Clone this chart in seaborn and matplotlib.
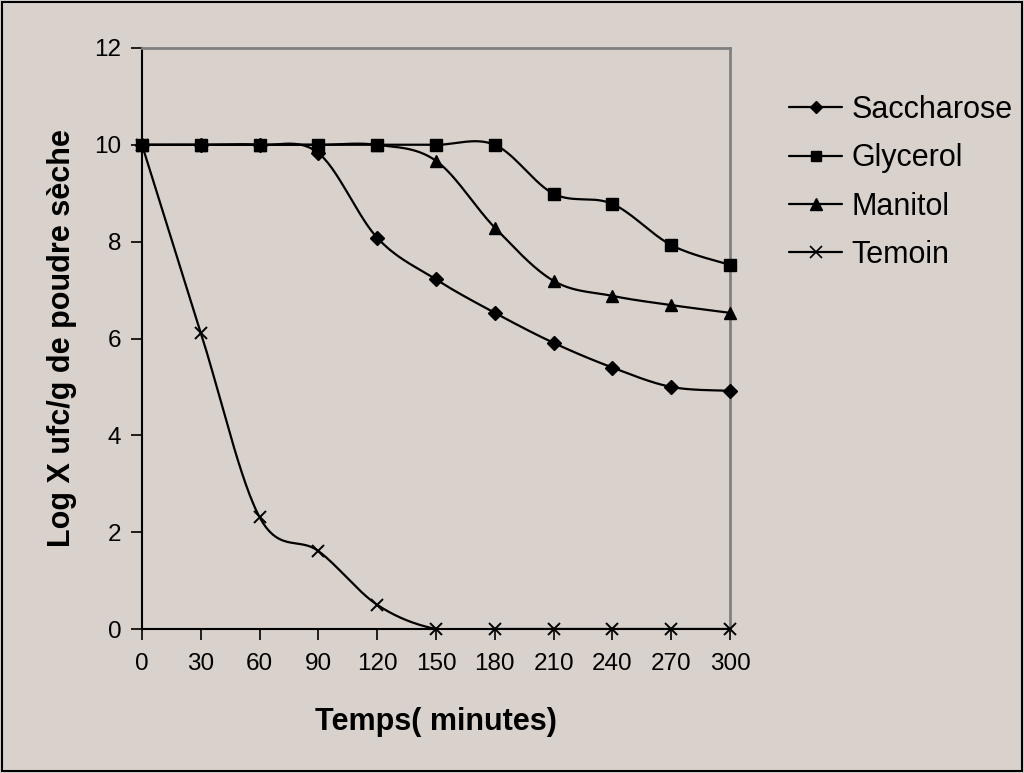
import numpy as np
import pandas as pd
import matplotlib
matplotlib.use("Agg")
import matplotlib.pyplot as plt
import seaborn as sns
from matplotlib.lines import Line2D

# ---- data ----
times = [0, 30, 60, 90, 120, 150, 180, 210, 240, 270, 300]
saccharose = [10, 10, 10, 9.83, 8.08, 7.22, 6.53, 5.91, 5.40, 5.00, 4.92]
glycerol = [10, 10, 10, 10, 10, 10, 10, 8.99, 8.78, 7.93, 7.52]
manitol = [10, 10, 10, 10, 10, 9.67, 8.29, 7.19, 6.88, 6.69, 6.53]
temoin = [10, 6.12, 2.31, 1.61, 0.50, 0, 0, 0, 0, 0, 0]
series_names = ["Saccharose", "Glycerol", "Manitol", "Temoin"]
series_values = [saccharose, glycerol, manitol, temoin]
markers = ["D", "s", "^", "x"]
marker_sizes = [7, 8, 9, 9]
x_ticks = [0, 30, 60, 90, 120, 150, 180, 210, 240, 270, 300]
y_ticks = [0, 2, 4, 6, 8, 10, 12]

BG = "#d9d1cb"

sns.set_theme(style="white")
plt.rcParams["font.family"] = ["Liberation Sans", "DejaVu Sans"]
plt.rcParams["text.color"] = "black"
plt.rcParams["axes.labelcolor"] = "black"
plt.rcParams["xtick.color"] = "black"
plt.rcParams["ytick.color"] = "black"

fig = plt.figure(figsize=(10.24, 7.73), dpi=100, facecolor=BG)
ax = fig.add_axes([142 / 1024, 1 - 629 / 773, (730 - 142) / 1024, (629 - 48) / 773])
ax.set_facecolor(BG)

# pixel scale (for Excel-like smoothing in screen space)
sx = 588 / 300.0
sy = 581 / 12.0


def excel_smooth(x, y, n=30):
    px = np.asarray(x, float) * sx
    py = np.asarray(y, float) * sy
    P = np.column_stack([px, py])
    out = []
    m = len(P)
    for i in range(m - 1):
        p0 = P[max(i - 1, 0)]
        p1 = P[i]
        p2 = P[i + 1]
        p3 = P[min(i + 2, m - 1)]
        c1 = p1 + (p2 - p0) / 6.0
        c2 = p2 - (p3 - p1) / 6.0
        t = np.linspace(0, 1, n, endpoint=(i == m - 2))[:, None]
        b = ((1 - t) ** 3) * p1 + 3 * ((1 - t) ** 2) * t * c1 + 3 * (1 - t) * t ** 2 * c2 + t ** 3 * p2
        out.append(b)
    B = np.vstack(out)
    return B[:, 0] / sx, B[:, 1] / sy


for name, vals, mk, ms in zip(series_names, series_values, markers, marker_sizes):
    xs, ys = excel_smooth(times, vals)
    dfc = pd.DataFrame({"t": xs, "v": ys})
    sns.lineplot(data=dfc, x="t", y="v", sort=False, estimator=None, ax=ax,
                 color="black", linewidth=1.6, zorder=2)
    dfp = pd.DataFrame({"t": times, "v": vals})
    if mk == "x":
        ax.plot(dfp["t"], dfp["v"], linestyle="none", marker="x", markersize=ms,
                markeredgewidth=1.4, color="black", zorder=3, clip_on=False)
    else:
        ax.plot(dfp["t"], dfp["v"], linestyle="none", marker=mk, markersize=ms,
                color="black", zorder=3, clip_on=False)

ax.set_xlim(0, 300)
ax.set_ylim(0, 12)
ax.set_xticks(x_ticks)
ax.set_yticks(y_ticks)
ax.set_xticklabels([str(v) for v in x_ticks], fontsize=17.5)
ax.set_yticklabels([str(v) for v in y_ticks], fontsize=17.5)
ax.tick_params(axis="both", direction="out", length=8, width=1.2, color="black",
               labelcolor="black", bottom=True, left=True, pad=9)
ax.tick_params(axis="y", pad=7)

for side in ["left", "bottom"]:
    ax.spines[side].set_color("black")
    ax.spines[side].set_linewidth(1.5)
for side in ["top", "right"]:
    ax.spines[side].set_visible(True)
    ax.spines[side].set_color("#808080")
    ax.spines[side].set_linewidth(2)

ax.set_xlabel("Temps( minutes)", fontsize=22, fontweight="bold", labelpad=23, color="black")
ax.set_ylabel("Log X ufc/g de poudre sèche", fontsize=22, fontweight="bold", labelpad=12,
              color="black")

handles = []
for name, mk, ms in zip(series_names, markers, marker_sizes):
    if mk == "x":
        h = Line2D([], [], color="black", linewidth=1.6, marker="x", markersize=ms,
                   markeredgewidth=1.2)
    else:
        h = Line2D([], [], color="black", linewidth=1.6, marker=mk, markersize=ms - 1)
    handles.append(h)
leg = fig.legend(handles, series_names, loc="upper left",
                 bbox_to_anchor=(789 / 1024, 1 - 95 / 773), frameon=False,
                 fontsize=22, handlelength=1.75, handletextpad=0.3, labelspacing=0.6,
                 borderaxespad=0, borderpad=0)
for t in leg.get_texts():
    t.set_color("black")

# outer black border
fig.patches.append(plt.Rectangle((0.002, 0.002), 0.996, 0.996, transform=fig.transFigure,
                                 fill=False, edgecolor="black", linewidth=1.5))

fig.savefig("out.png", dpi=100, facecolor=BG)
